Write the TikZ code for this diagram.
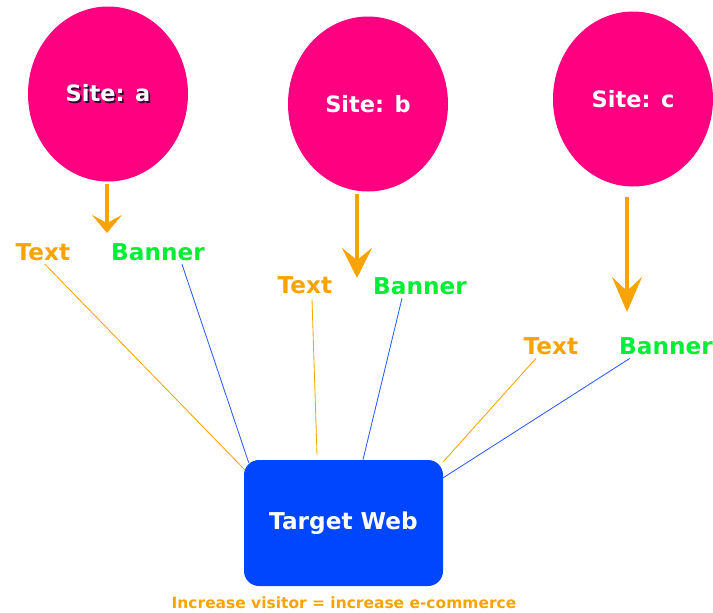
\documentclass[tikz,border=0pt]{standalone}
\usepackage{fontspec}
\setmainfont{DejaVu Sans}
\usetikzlibrary{shapes.geometric,arrows.meta}

\definecolor{sitepink}{HTML}{FF0080}
\definecolor{flowor}{HTML}{F7A400}
\definecolor{bannergr}{HTML}{00EE33}
\definecolor{webblue}{HTML}{0046FF}
\definecolor{linkblue}{HTML}{2A5CFF}
\definecolor{shadowcol}{HTML}{3A0030}

\newcommand{\shadowed}[1]{\makebox[0pt][l]{\raisebox{-1pt}{\hspace{1.2pt}\color{shadowcol}#1}}#1}

\tikzset{
  site/.style={ellipse, fill=sitepink, minimum width=4cm, minimum height=4.375cm, inner sep=0cm,
    text=white, font=\fontsize{16}{19}\selectfont\bfseries},
  lbl/.style={inner sep=1pt, font=\fontsize{16.5}{20}\selectfont\bfseries},
  txtlbl/.style={lbl, text=flowor},
  banlbl/.style={lbl, text=bannergr},
  flow/.style={draw=flowor, line width=0.1cm},
  txtlink/.style={draw=flowor, line width=0.6pt},
  banlink/.style={draw=linkblue, line width=0.6pt},
}

\begin{document}
\begin{tikzpicture}
    \useasboundingbox (0cm,0cm) rectangle (17.825cm,-15.325cm);
    % sites
    \node[site] at (2.7cm,-2.35cm) (sa) {\shadowed{Site: a}};
    \node[site] at (9.2cm,-2.6cm) (sb) {Site: b};
    \node[site] at (15.825cm,-2.475cm) (sc) {Site: c};
    % labels
    \node[txtlbl] at (1.075cm,-6.3cm) (ta) {Text};
    \node[banlbl] at (3.95cm,-6.3cm) (ba) {Banner};
    \node[txtlbl] at (7.625cm,-7.125cm) (tb) {Text};
    \node[banlbl] at (10.5cm,-7.15cm) (bb) {Banner};
    \node[txtlbl] at (13.775cm,-8.65cm) (tc) {Text};
    \node[banlbl] at (16.65cm,-8.65cm) (bc) {Banner};
    % target
    \node[fill=webblue, rounded corners=0.375cm, minimum width=4.975cm, minimum height=3.15cm,
      text=white, font=\fontsize{16.5}{20}\selectfont\bfseries] at (8.5875cm,-13.075cm) (tw) {Target Web};
    \node[text=flowor, font=\fontsize{11}{13}\selectfont\bfseries] at (8.6cm,-15.075cm) (inc)
      {Increase visitor = increase e-commerce};
    % arrow ends
    \coordinate (ea) at (2.675cm,-5.825cm);
    \coordinate (eb) at (8.925cm,-6.95cm);
    \coordinate (ec) at (15.675cm,-7.8cm);
    \draw[flow, -{Stealth[length=0.45cm, width=0.75cm, inset=0.2cm]}] ([yshift=-0.05cm]sa.south -| ea) -- (ea);
    \draw[flow, -{Stealth[length=0.75cm, width=0.75cm, inset=0.3cm]}] ([yshift=-0.05cm]sb.south -| eb) -- (eb);
    \draw[flow, -{Stealth[length=0.875cm, width=0.75cm, inset=0.35cm]}] ([yshift=-0.25cm]sc.south -| ec) -- (ec);
    % link ends on the box
    \coordinate (lta) at ([xshift=0.025cm,yshift=-0.25cm]tw.north west);
    \coordinate (lba) at ([xshift=0.125cm,yshift=-0.075cm]tw.north west);
    \coordinate (ltb) at ([xshift=-0.6625cm,yshift=0.125cm]tw.north);
    \coordinate (lbb) at ([xshift=0.4875cm]tw.north);
    \coordinate (ltc) at ([yshift=-0.05cm]tw.north east);
    \coordinate (lbc) at ([yshift=-0.45cm]tw.north east);
    \draw[txtlink] ([xshift=0.05cm,yshift=-0.05cm]ta.south) -- (lta);
    \draw[banlink] ([xshift=0.6cm,yshift=-0.05cm]ba.south) -- (lba);
    \draw[txtlink] ([xshift=0.175cm,yshift=-0.1cm]tb.south) -- (ltb);
    \draw[banlink] ([xshift=-0.45cm,yshift=-0.05cm]bb.south) -- (lbb);
    \draw[txtlink] ([xshift=-0.375cm,yshift=-0.05cm]tc.south) -- (ltc);
    \draw[banlink] ([xshift=-0.9cm,yshift=-0.05cm]bc.south) -- (lbc);
\end{tikzpicture}
\end{document}
